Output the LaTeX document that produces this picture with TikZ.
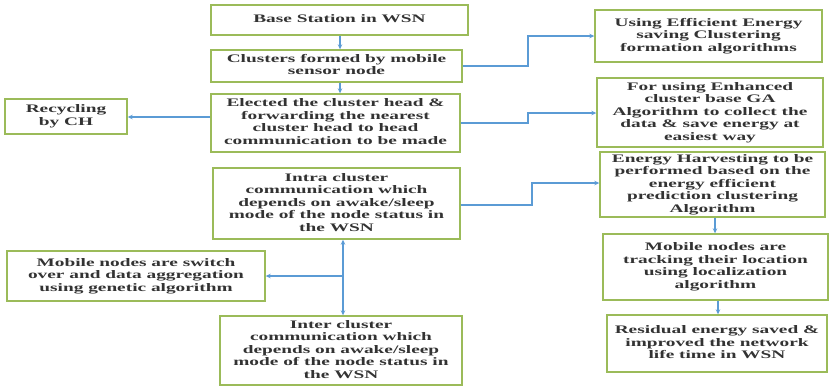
\documentclass[tikz,border=0pt]{standalone}
\usepackage{fontspec}
\usepackage{graphicx}
\newfontfamily\boxfont{Liberation Serif}
\usetikzlibrary{arrows.meta}
\definecolor{boxgreen}{HTML}{9BBB59}
\definecolor{linkblue}{HTML}{5B9BD5}
\definecolor{inkgray}{HTML}{333333}
% widened, centred block of lines
\newcommand\wtext[1]{\scalebox{1.68}[1]{\begin{tabular}{@{}c@{}}#1\end{tabular}}}
\begin{document}
\begin{tikzpicture}[x=1pt,y=-1pt,
  blk/.style={draw=boxgreen,line width=1.4pt,fill=white,inner sep=0pt,
    align=center,text=inkgray,
    font=\boxfont\bfseries\fontsize{11.5}{12.5}\selectfont},
  link/.style={draw=linkblue,line width=1.1pt,
    -{Stealth[length=5pt,width=4.5pt]}},
  dlink/.style={draw=linkblue,line width=1.1pt,
    {Stealth[length=5pt,width=4.5pt]}-{Stealth[length=5pt,width=4.5pt]}}]
\useasboundingbox (0,0) rectangle (829,389);

% central column
\node[blk,minimum width=257pt,minimum height=30pt] (base) at (339.5,20) {\wtext{Base Station in WSN}};
\node[blk,minimum width=251pt,minimum height=32pt] (clus) at (336.5,66) {\wtext{Clusters formed by mobile\\sensor node}};
\node[blk,minimum width=249pt,minimum height=58pt] (elect) at (335.5,123) {\wtext{Elected the cluster head \&\\forwarding the nearest\\cluster head to head\\communication to be made}};
\node[blk,minimum width=247pt,minimum height=71pt] (intra) at (336.5,203.5) {\wtext{Intra cluster\\communication which\\depends on awake/sleep\\mode of the node status in\\the WSN}};
\node[blk,minimum width=242pt,minimum height=69pt] (inter) at (341,350.5) {\wtext{Inter cluster\\communication which\\depends on awake/sleep\\mode of the node status in\\the WSN}};

% left side
\node[blk,minimum width=122pt,minimum height=35pt] (recy) at (66,116.5) {\wtext{Recycling\\by CH}};
\node[blk,minimum width=258pt,minimum height=50pt] (mobsw) at (136,276) {\wtext{Mobile nodes are switch\\over and data aggregation\\using genetic algorithm}};

% right column
\node[blk,minimum width=227pt,minimum height=52pt] (effi) at (708.5,36) {\wtext{Using Efficient Energy\\saving Clustering\\formation algorithms}};
\node[blk,minimum width=226pt,minimum height=69pt] (enh) at (710,112.5) {\wtext{For using Enhanced\\cluster base GA\\Algorithm to collect the\\data \& save energy at\\easiest way}};
\node[blk,minimum width=225pt,minimum height=65pt] (harv) at (712.5,184.5) {\wtext{Energy Harvesting to be\\performed based on the\\energy efficient\\prediction clustering\\Algorithm}};
\node[blk,minimum width=225pt,minimum height=66pt] (track) at (715.5,267) {\wtext{Mobile nodes are\\tracking their location\\using localization\\algorithm}};
\node[blk,minimum width=220pt,minimum height=57pt] (resid) at (717,343.5) {\wtext{Residual energy saved \&\\improved the network\\life time in WSN}};

% junction points of the elbow connectors
\coordinate (kA) at (528,66);
\coordinate (kB) at (528,123);
\coordinate (kC) at (532,205);
\coordinate (split) at (343,276);

% connectors
\draw[link] (base.south -| 340,0) -- (clus.north -| 340,0);
\draw[link] (clus.south -| 340,0) -- (elect.north -| 340,0);
\draw[link] (elect.west |- 0,117) -- (recy.east |- 0,117);
\draw[link] (clus.east |- kA) -- (kA) |- (effi.west);
\draw[link] (elect.east |- kB) -- (kB) |- (enh.west |- 0,113);
\draw[link] (intra.east |- kC) -- (kC) |- (harv.west |- 0,183);
\draw[link] (harv.south -| 715,0) -- (track.north -| 715,0);
\draw[link] (track.south -| 718,0) -- (resid.north -| 718,0);
\draw[dlink] (intra.south -| split) -- (inter.north -| split);
\draw[link] (split) -- (mobsw.east |- split);
\end{tikzpicture}
\end{document}
